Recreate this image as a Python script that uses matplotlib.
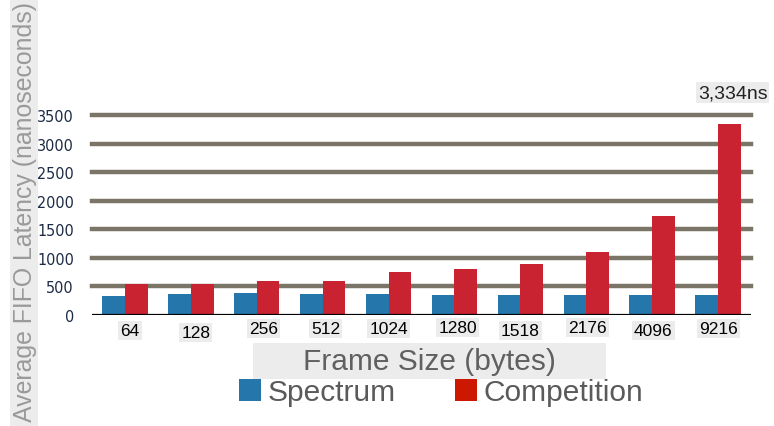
import numpy as np
import matplotlib
matplotlib.use('Agg')
import matplotlib.pyplot as plt
from matplotlib.patches import Rectangle, Patch
from matplotlib.transforms import ScaledTranslation

# frame sizes and latencies (ns)
frame_sizes = ['64', '128', '256', '512', '1024', '1280', '1518', '2176', '4096', '9216']
spectrum = [338, 360, 385, 362, 360, 356, 356, 356, 356, 356]
competition = [535, 540, 590, 590, 745, 805, 898, 1097, 1727, 3334]
peak_label = '3,334ns'
y_ticks = [0, 500, 1000, 1500, 2000, 2500, 3000, 3500]

BLUE = '#2577ab'
RED = '#c92230'
RED_LEGEND = '#cc1800'
GRID = '#7a7566'
BOX = '#ececec'

plt.rcParams['font.family'] = ['Liberation Sans', 'DejaVu Sans']

W, H = 774, 427
fig = plt.figure(figsize=(W / 100, H / 100), dpi=100)
# axes box in pixels: left 92, right 751, y=0 at 316, 3600 at ~110
ax = fig.add_axes([92 / W, 111 / H, 659 / W, 205.7 / H])

x = np.arange(len(frame_sizes))
bw = 0.345
ax.bar(x - bw / 2, spectrum, bw, color=BLUE, zorder=3)
ax.bar(x + bw / 2, competition, bw, color=RED, zorder=3)

for v in y_ticks[1:]:
    ax.axhline(v, color=GRID, lw=3.2, zorder=1, clip_on=False)
ax.axhline(0, color='black', lw=1.6, zorder=4)

ax.set_xlim(-0.5, len(frame_sizes) - 0.5)
ax.set_ylim(0, 3600)
for s in ax.spines.values():
    s.set_visible(False)

ax.set_yticks(y_ticks)
ax.set_yticklabels([str(v) for v in y_ticks], color='#1c2b45', fontsize=11.5,
                   family='DejaVu Sans', fontstretch='condensed')
ax.tick_params(axis='y', length=0, pad=13)

ax.set_xticks(x)
ax.set_xticklabels(frame_sizes, fontsize=12.5, color='black')
ax.tick_params(axis='x', length=0, pad=5)
# the tick labels in the picture sit a little unevenly
dx_px = [5, 5, 7, 3, 0, 3, 0, 1, 1, 0]
dy_px = [-1, -3, 1, 1, 1, 2, -1, 2, -1, 1]
for lab, ddx, ddy in zip(ax.get_xticklabels(), dx_px, dy_px):
    lab.set_bbox(dict(facecolor=BOX, edgecolor='none', pad=1.5))
    lab.set_transform(lab.get_transform() + ScaledTranslation(ddx / 100, ddy / 100, fig.dpi_scale_trans))

# label over the tallest bar
ax.text(x[-1] + 0.22, 3334 + 560, peak_label, ha='center', va='center', fontsize=14,
        color='#222222', bbox=dict(facecolor=BOX, edgecolor='none', pad=1.5), clip_on=False)

# y axis title with its grey strip
fig.patches.append(Rectangle((10 / W, 0), 28 / W, 1, transform=fig.transFigure,
                             facecolor=BOX, edgecolor='none', zorder=-1))
fig.text(25 / W, 1 - 212 / H, 'Average FIFO Latency (nanoseconds)', rotation=90,
         ha='center', va='center', fontsize=17.9, color='#9a9a9a')

# x axis title with its grey box
fig.patches.append(Rectangle((253 / W, 1 - 380 / H), 353 / W, 36 / H, transform=fig.transFigure,
                             facecolor=BOX, edgecolor='none', zorder=-1))
fig.text(429 / W, 1 - 362 / H, 'Frame Size (bytes)', ha='center', va='center',
         fontsize=21.5, color='#606060')

handles = [Patch(facecolor=BLUE, edgecolor='none'), Patch(facecolor=RED_LEGEND, edgecolor='none')]
fig.legend(handles, ['Spectrum', 'Competition'], loc='center', bbox_to_anchor=(441 / W, 1 - 393 / H),
           ncol=2, frameon=False, fontsize=21.5, labelcolor='#5a5a5a',
           handlelength=0.75, handleheight=0.75, handletextpad=0.2, columnspacing=2.0,
           borderpad=0, borderaxespad=0)

fig.savefig('out.png', dpi=100)
